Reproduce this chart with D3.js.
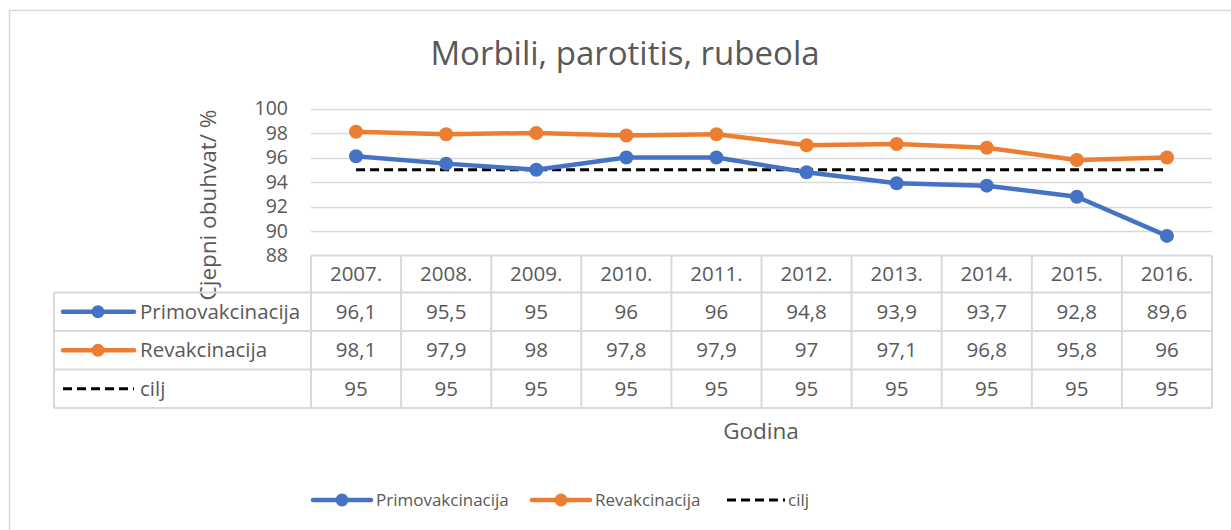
<!DOCTYPE html>
<html><head><meta charset="utf-8">
<script src="https://cdn.jsdelivr.net/npm/d3@7"></script>
<style>body{margin:0;background:#fff}svg{display:block}text{font-family:"Open Sans",sans-serif;fill:#595959}</style>
</head><body><svg id="c" width="1231" height="530"></svg>
<script>
const years = ["2007.","2008.","2009.","2010.","2011.","2012.","2013.","2014.","2015.","2016."];
const primo = [96.1,95.5,95,96,96,94.8,93.9,93.7,92.8,89.6];
const revak = [98.1,97.9,98,97.8,97.9,97,97.1,96.8,95.8,96];
const cilj = [95,95,95,95,95,95,95,95,95,95];
const yTicks = [88,90,92,94,96,98,100];
const seriesNames = ["Primovakcinacija","Revakcinacija","cilj"];
const title = "Morbili, parotitis, rubeola";
const yTitle = "Cjepni obuhvat/ %";
const xTitle = "Godina";

const series = [
  {name: seriesNames[0], values: primo, color: "#4472C4", dash: null, marker: true},
  {name: seriesNames[1], values: revak, color: "#ED7D31", dash: null, marker: true},
  {name: seriesNames[2], values: cilj, color: "#000000", dash: "9,5", marker: false}
];
const fmt = v => String(v).replace(".", ",");

const svg = d3.select("#c");
const grid = "#d9d9d9";
svg.append("rect").attr("x",9.5).attr("y",10.5).attr("width",1240).attr("height",540)
  .attr("fill","none").attr("stroke",grid).attr("stroke-width",1.5);

const x = d3.scaleBand().domain(years).range([311,1212]);
const y = d3.scaleLinear().domain([88,100]).range([255.5,108.5]);

// title
svg.append("text").attr("x",625).attr("y",65).attr("text-anchor","middle")
  .style("font-size","33px").text(title);

// gridlines
svg.append("g").selectAll("line").data(yTicks.filter(t=>t>88)).join("line")
  .attr("x1",311).attr("x2",1212).attr("y1",d=>Math.round(y(d))+0.5).attr("y2",d=>Math.round(y(d))+0.5)
  .attr("stroke",grid).attr("stroke-width",1.5);

// y axis labels
const yAxis = d3.axisLeft(y).tickValues(yTicks).tickSize(0).tickPadding(0);
const gy = svg.append("g").attr("transform","translate(288,0)").call(yAxis);
gy.select(".domain").remove();
gy.selectAll("text").style("font-size","19.5px").attr("fill","#595959").style("font-family","Open Sans");

// y title
svg.append("text").attr("transform","translate(216,205) rotate(-90)").attr("text-anchor","middle")
  .style("font-size","22.5px").text(yTitle);

// table
const rowTop = [255.5,292.5,331,369.5,408];
const tbl = svg.append("g");
const colEdges = years.map(d=>x(d)).concat([1212]);
tbl.append("line").attr("x1",311).attr("x2",1212).attr("y1",rowTop[0]).attr("y2",rowTop[0]).attr("stroke",grid).attr("stroke-width",2);
[1,2,3,4].forEach(i=>{
  tbl.append("line").attr("x1",54).attr("x2",1212).attr("y1",rowTop[i]).attr("y2",rowTop[i]).attr("stroke",grid).attr("stroke-width",2);
});
tbl.append("line").attr("x1",54).attr("x2",54).attr("y1",rowTop[1]).attr("y2",rowTop[4]).attr("stroke",grid).attr("stroke-width",2);
colEdges.forEach(cx=>{
  tbl.append("line").attr("x1",cx).attr("x2",cx).attr("y1",rowTop[0]).attr("y2",rowTop[4]).attr("stroke",grid).attr("stroke-width",2);
});
tbl.selectAll("text.h").data(years).join("text").attr("class","h")
  .attr("x",d=>x(d)+x.bandwidth()/2).attr("y",(rowTop[0]+rowTop[1])/2+7)
  .attr("text-anchor","middle").style("font-size","20.5px").text(d=>d);
series.forEach((s,i)=>{
  const cy = (rowTop[i+1]+rowTop[i+2])/2;
  tbl.selectAll("text.v"+i).data(s.values).join("text").attr("class","v"+i)
    .attr("x",(d,j)=>x(years[j])+x.bandwidth()/2).attr("y",cy+7)
    .attr("text-anchor","middle").style("font-size","20.5px").text(d=>fmt(d));
  tbl.append("line").attr("x1",63).attr("x2",134).attr("y1",cy).attr("y2",cy)
    .attr("stroke",s.color).attr("stroke-width",s.dash?3:4.5).attr("stroke-dasharray",s.dash)
    .attr("stroke-linecap",s.dash?"butt":"round");
  if(s.marker) tbl.append("circle").attr("cx",98).attr("cy",cy).attr("r",6.5).attr("fill",s.color);
  tbl.append("text").attr("x",140).attr("y",cy+7).style("font-size","20.5px").text(s.name);
});

// series lines
const line = d3.line().x((d,j)=>x(years[j])+x.bandwidth()/2).y(d=>y(d));
[2,0,1].forEach(i=>{
  const s = series[i];
  svg.append("path").datum(s.values).attr("d",line).attr("fill","none")
    .attr("stroke",s.color).attr("stroke-width",s.dash?3:4.5).attr("stroke-dasharray",s.dash)
    .attr("stroke-linejoin","round");
  if(s.marker){
    svg.append("g").selectAll("circle").data(s.values).join("circle")
      .attr("cx",(d,j)=>x(years[j])+x.bandwidth()/2).attr("cy",d=>y(d)).attr("r",7).attr("fill",s.color);
  }
});

// x title
svg.append("text").attr("x",761).attr("y",439).attr("text-anchor","middle").style("font-size","22.5px").text(xTitle);

// bottom legend
const legX = [313,532,727];
series.forEach((s,i)=>{
  const g = svg.append("g").attr("transform",`translate(${legX[i]},500)`);
  g.append("line").attr("x1",0).attr("x2",58).attr("y1",0).attr("y2",0)
    .attr("stroke",s.color).attr("stroke-width",s.dash?3:4.5).attr("stroke-dasharray",s.dash)
    .attr("stroke-linecap",s.dash?"butt":"round");
  if(s.marker) g.append("circle").attr("cx",29).attr("cy",0).attr("r",6.5).attr("fill",s.color);
  g.append("text").attr("x",s.dash?61:63).attr("y",6).style("font-size","17px").text(s.name);
});
</script></body></html>
